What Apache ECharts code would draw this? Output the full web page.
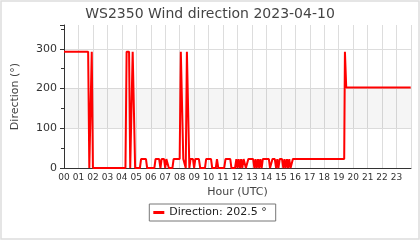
<!DOCTYPE html>
<html><head><meta charset="utf-8">
<script src="https://cdn.jsdelivr.net/npm/echarts@6/dist/echarts.min.js"></script>
<style>html,body{margin:0;padding:0;background:#fff}#c{width:420px;height:240px}</style>
</head><body><div id="c"></div>
<script>
const title = 'WS2350 Wind direction 2023-04-10';
const legendLabel = 'Direction: 202.5 °';
const hourTicks = ['00','01','02','03','04','05','06','07','08','09','10','11','12','13','14','15','16','17','18','19','20','21','22','23'];
const hours = [0.00,1.67,1.75,1.83,1.92,2.00,4.25,4.33,4.50,4.58,4.67,4.75,4.83,4.92,
  5.25,5.33,5.67,5.75,6.25,6.33,6.58,6.67,6.75,6.92,7.00,7.08,7.17,7.25,
  7.50,7.58,8.00,8.08,8.17,8.25,8.42,8.50,8.58,8.67,8.75,8.92,9.00,9.08,9.33,9.42,
  9.75,9.83,10.17,10.25,10.50,10.58,10.67,11.08,11.17,11.50,11.58,
  11.83,11.92,12.00,12.08,12.17,12.25,12.33,12.42,12.50,12.58,
  12.67,12.75,13.08,13.17,13.25,13.33,13.42,13.50,13.58,13.67,13.75,14.17,14.25,
  14.33,14.42,14.58,14.67,14.75,14.83,14.92,15.08,15.17,15.25,15.33,15.42,15.50,15.58,15.67,15.83,
  19.38,19.43,19.52,23.98];
const direction = [292.5,292.5,0,0,292.5,0,0,292.5,292.5,0,0,292.5,292.5,0,
  0,22.5,22.5,0,0,22.5,22.5,0,22.5,22.5,0,22.5,22.5,0,
  0,22.5,22.5,292.5,292.5,22.5,0,292.5,292.5,0,22.5,22.5,0,22.5,22.5,0,
  0,22.5,22.5,0,0,22.5,0,0,22.5,22.5,0,
  0,22.5,0,22.5,0,22.5,0,22.5,22.5,0,
  0,22.5,22.5,0,22.5,0,22.5,0,22.5,0,22.5,22.5,0,
  0,22.5,22.5,0,22.5,0,22.5,22.5,0,22.5,0,22.5,0,22.5,0,22.5,
  22.5,292.5,202.5,202.5];
const band = [100, 200];

const chart = echarts.init(document.getElementById('c'));
const font = 'DejaVu Sans';
chart.setOption({
  animation: false,
  textStyle: {fontFamily: font},
  title: {text: title, left: 'center', top: 2,
    textStyle: {fontSize: 14, fontWeight: 'normal', color: '#444', fontFamily: font}},
  graphic: [{type: 'rect', shape: {x: 1, y: 1, width: 418, height: 238}, silent: true,
    style: {fill: 'none', stroke: '#ddd', lineWidth: 1.5}}],
  grid: {left: 64, right: 9, top: 25, bottom: 72},
  legend: {top: 204, left: 'center', data: [legendLabel], borderColor: '#777', borderWidth: 1,
    borderRadius: 0, padding: [3, 9, 3, 4], itemWidth: 11, itemHeight: 3, itemGap: 8, icon: 'rect',
    textStyle: {fontSize: 11, color: '#222', fontFamily: font}},
  xAxis: {type: 'value', min: 0, max: 24, interval: 1,
    name: 'Hour (UTC)', nameLocation: 'middle', nameGap: 13,
    nameTextStyle: {fontSize: 11, color: '#444', fontFamily: font},
    axisLine: {lineStyle: {color: '#333'}}, axisTick: {show: false},
    axisLabel: {fontSize: 9, color: '#333', margin: 5,
      formatter: v => (v < 24 ? hourTicks[v] : '')},
    splitLine: {show: true, lineStyle: {color: '#ddd'}}},
  yAxis: {type: 'value', min: 0, max: 360, interval: 100,
    name: 'Direction (°)', nameLocation: 'middle', nameGap: 43, nameRotate: 90,
    nameTextStyle: {fontSize: 11, color: '#444', fontFamily: font},
    axisLine: {show: true, lineStyle: {color: '#333'}},
    axisTick: {show: true, length: 4, lineStyle: {color: '#333'}},
    minorTick: {show: true, splitNumber: 2, length: 3, lineStyle: {color: '#333'}},
    axisLabel: {fontSize: 11, color: '#333', margin: 7,
      formatter: v => (v > 300 ? '' : v)},
    splitLine: {show: true, lineStyle: {color: ['#ddd', '#ddd', '#ddd', '#ddd', 'rgba(0,0,0,0)']}}},
  series: [{name: legendLabel, type: 'line', showSymbol: false, symbol: 'none',
    data: hours.map((h, i) => [h, direction[i]]),
    lineStyle: {color: '#ff0000', width: 2}, itemStyle: {color: '#ff0000'},
    markArea: {silent: true, itemStyle: {color: 'rgba(0,0,0,0.04)'},
      data: [[{yAxis: band[0]}, {yAxis: band[1]}]]}}]
});
</script></body></html>
